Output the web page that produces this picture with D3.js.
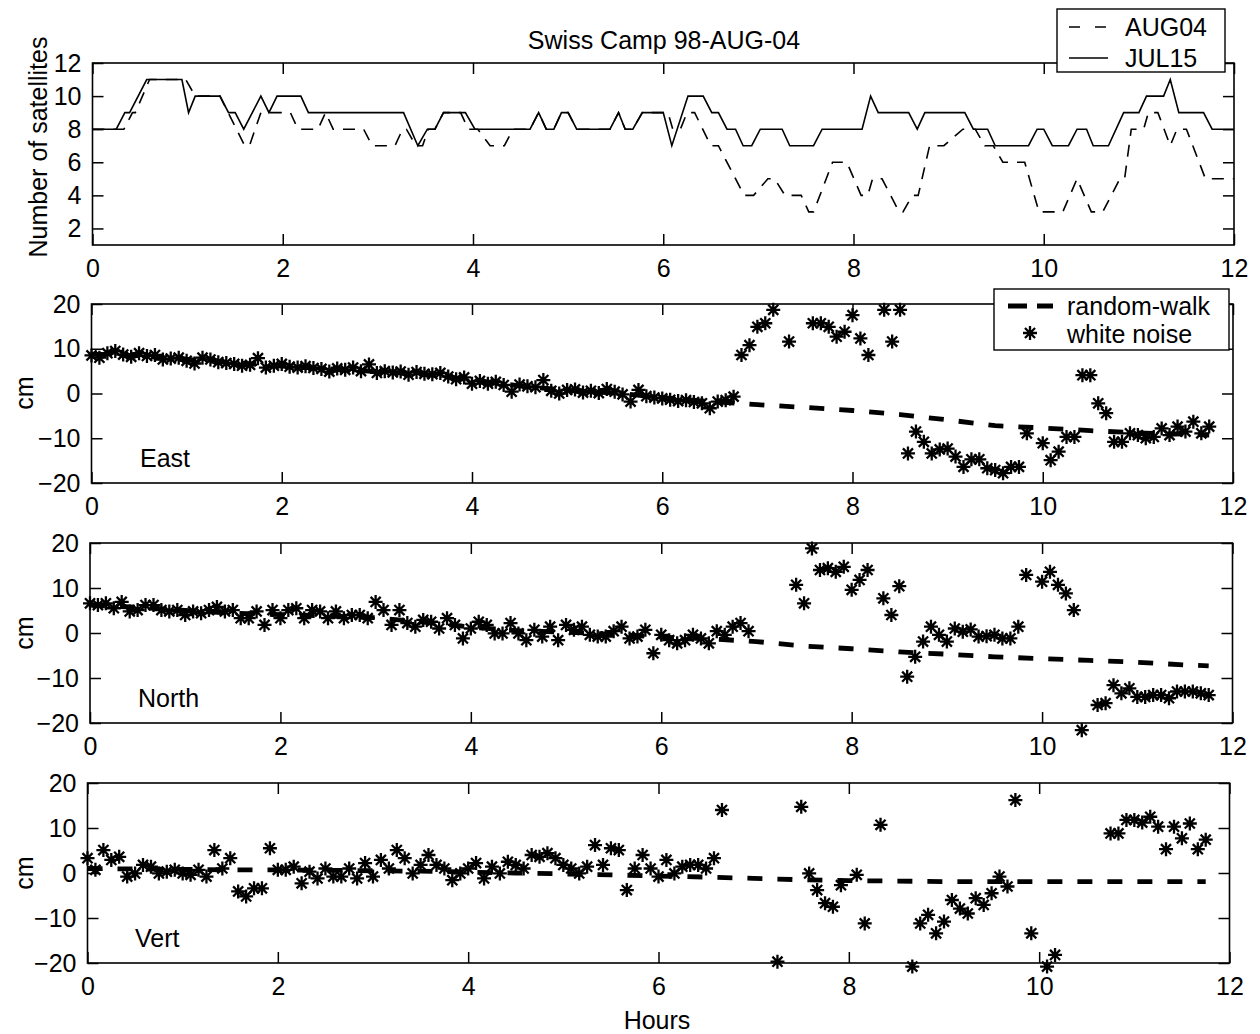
<!DOCTYPE html>
<html><head><meta charset="utf-8">
<script src="https://cdn.jsdelivr.net/npm/d3@7"></script>
<style>
body{margin:0;background:#fff;}
text{font-family:"Liberation Sans", Arial, Helvetica, sans-serif;fill:#000;}
</style></head><body>
<svg id="chart" width="1260" height="1034"></svg>
<script>
// ---------- DATA ----------
const titleText = "Swiss Camp 98-AUG-04";
const seriesNames = ["AUG04", "JUL15"];
const cmLegendNames = ["random-walk", "white noise"];
const panelNames = ["East", "North", "Vert"];
const xTicks = [0, 2, 4, 6, 8, 10, 12];
const satTicks = [2, 4, 6, 8, 10, 12];
const cmTicks = [-20, -10, 0, 10, 20];

// Number of satellites (breakpoints)
const jul15Hours = [0,0.25,0.34,0.39,0.57,0.94,1.01,1.08,1.34,1.43,1.5,1.59,1.77,1.855,1.94,2.19,2.27,3.27,3.42,3.52,3.6,3.69,3.92,4.02,4.6,4.69,4.77,4.85,4.93,5.0,5.09,5.44,5.53,5.6,5.68,5.78,6.0,6.09,6.26,6.42,6.51,6.58,6.67,6.76,6.84,6.93,7.02,7.25,7.33,7.58,7.67,8.09,8.18,8.26,8.58,8.67,8.75,9.17,9.26,9.41,9.49,9.84,9.93,10.0,10.09,10.26,10.35,10.45,10.52,10.68,10.84,11.0,11.08,11.26,11.33,11.42,11.68,11.77,12.0];
const jul15Sats  = [8,8,9,9,11,11,9,10,10,9,9,8,10,9,10,10,9,9,7,8,8,9,9,8,8,9,8,8,9,9,8,8,9,8,8,9,9,7,10,10,9,9,8,8,7,7,8,8,7,7,8,8,10,9,9,8,9,9,8,8,7,7,8,8,7,7,8,8,7,7,9,9,10,10,11,9,9,8,8];
const aug04Hours = [0,0.33,0.42,0.45,0.6,0.98,1.08,1.34,1.6,1.65,1.77,2.08,2.16,2.37,2.45,2.53,2.85,2.94,3.18,3.26,3.3,3.4,3.47,3.53,3.6,3.69,3.87,3.95,4.05,4.18,4.33,4.42,4.6,4.69,4.77,4.85,4.93,5.0,5.09,5.44,5.53,5.6,5.68,5.78,6.05,6.1,6.18,6.25,6.33,6.5,6.58,6.85,6.95,7.1,7.17,7.28,7.45,7.53,7.58,7.78,7.93,8.08,8.15,8.2,8.3,8.48,8.52,8.62,8.68,8.8,8.95,9.15,9.28,9.38,9.47,9.57,9.8,9.95,10.2,10.35,10.5,10.62,10.8,10.85,10.92,11.05,11.1,11.2,11.33,11.4,11.5,11.7,12];
const aug04Sats  = [8,8,9,9,11,11,10,10,7,7,9,9,8,8,9,8,8,7,7,8,8,7,7,8,8,9,9,8,8,7,7,8,8,9,8,8,9,9,8,8,9,8,8,9,9,8,8,9,9,7,7,4,4,5,5,4,4,3,3,6,6,4,4,5,5,3,3,4,4,7,7,8,8,7,7,6,6,3,3,5,3,3,5,5,8,8,9,9,7,8,8,5,5];

// Epoch times (hours) of the position solutions
const epochHours = [
 0,0.083,0.167,0.25,0.333,0.417,0.5,0.583,0.667,0.75,0.833,0.917,
 1,1.083,1.167,1.25,1.333,1.417,1.5,1.583,1.667,1.75,1.833,1.917,
 2,2.083,2.167,2.25,2.333,2.417,2.5,2.583,2.667,2.75,2.833,2.917,
 3,3.083,3.167,3.25,3.333,3.417,3.5,3.583,3.667,3.75,3.833,3.917,
 4,4.083,4.167,4.25,4.333,4.417,4.5,4.583,4.667,4.75,4.833,4.917,
 5,5.083,5.167,5.25,5.333,5.417,5.5,5.583,5.667,5.75,5.833,5.917,
 6,6.083,6.167,6.25,6.333,6.417,6.5,6.583,6.667,6.75,6.833,6.917,
 7,7.083,7.167,7.25,7.333,7.417,7.5,7.583,7.667,7.75,7.833,7.917,
 8,8.083,8.167,8.25,8.333,8.417,8.5,8.583,8.667,8.75,8.833,8.917,
 9,9.083,9.167,9.25,9.333,9.417,9.5,9.583,9.667,9.75,9.833,9.917,
 10,10.083,10.167,10.25,10.333,10.417,10.5,10.583,10.667,10.75,10.833,10.917,
 11,11.083,11.167,11.25,11.333,11.417,11.5,11.583,11.667,11.75];

// White-noise solutions (cm), null = no solution
const eastCm = [
 8.5,8.0,9.0,9.5,8.7,8.2,9.0,8.4,8.6,7.6,7.8,8.0,
 7.3,6.7,8.0,7.6,7.0,6.8,6.6,6.2,6.4,7.9,5.8,6.2,
 6.6,6.0,5.8,6.1,5.7,5.5,4.9,5.6,5.3,5.8,5.0,6.5,
 4.6,5.0,4.7,4.9,4.2,4.8,4.4,4.3,4.6,3.8,3.2,3.6,
 2.2,2.8,2.2,2.6,1.9,0.4,2.0,1.6,1.4,3.0,0.6,0.0,
 0.8,0.9,0.2,0.6,0.1,1.0,0.4,-0.2,-1.8,0.8,-0.6,-0.9,
 -1.1,-1.4,-1.7,-1.5,-1.9,-2.2,-3.3,-1.8,-1.5,-0.7,8.6,10.8,
 14.9,15.7,18.7,null,11.6,null,null,15.7,15.7,14.9,12.7,13.8,
 17.5,12.3,8.6,null,18.7,11.6,18.7,-13.4,-8.5,-10.8,-13.4,-12.5,
 -12.3,-14.1,-16.4,-14.7,-14.7,-16.7,-17.1,-17.8,-16.4,-16.4,-8.9,null,
 -11.1,-14.9,-13.0,-9.7,-9.7,4.1,4.1,-2.2,-4.4,-10.8,-10.8,-8.9,
 -9.3,-10.0,-9.7,-7.8,-9.3,-7.4,-8.5,-6.3,-8.9,-7.4];
const northCm = [
 6.6,6.2,6.6,5.5,6.9,4.8,5.1,6.2,6.2,5.1,4.8,5.1,
 4.0,4.8,4.4,5.1,5.8,4.8,5.1,3.3,3.3,4.8,1.8,5.1,
 3.3,5.1,5.5,3.3,5.1,4.8,3.3,4.8,3.3,4.0,4.0,3.3,
 6.9,5.1,1.8,5.1,2.2,1.4,2.9,2.5,1.0,3.3,1.8,-1.2,
 1.0,2.5,1.8,-0.1,-0.1,2.2,-0.1,-1.6,0.7,-0.8,1.4,-1.6,
 1.8,0.7,1.4,-0.4,-0.8,-0.8,0.4,1.4,-1.2,-0.8,0.7,-4.5,
 -0.4,-1.6,-2.3,-1.6,-0.4,-1.2,-2.3,0.4,-0.4,1.4,2.2,0.4,
 null,null,null,null,null,10.7,6.6,18.8,14.0,14.4,13.6,14.7,
 9.6,11.8,14.0,null,7.7,4.0,10.4,-9.7,-5.3,-1.9,1.4,-0.4,
 -1.9,1.0,0.3,0.8,-0.8,-0.7,-0.4,-1.2,-1.2,1.4,12.9,null,
 11.4,13.6,10.7,8.8,5.1,-21.6,null,-16.0,-15.6,-11.6,-13.4,-12.3,
 -14.2,-14.2,-13.8,-13.8,-14.5,-13.0,-13.0,-13.0,-13.4,-13.8];
const vertCm = [
 3.3,0.7,5.1,2.9,3.6,-0.8,-0.1,1.8,1.4,-0.1,0.3,0.7,
 -0.1,-0.4,0.7,-0.8,5.1,1.0,3.3,-4.1,-5.2,-3.4,-3.4,5.5,
 0.7,0.7,1.4,-2.3,0.3,-1.2,1.0,-0.8,-0.8,1.0,-1.2,2.2,
 -0.8,2.9,1.0,5.1,3.3,-0.1,1.8,4.0,1.8,1.0,-1.6,-0.1,
 1.0,2.2,-1.2,1.4,-0.1,2.5,1.8,1.0,4.0,3.6,4.4,3.3,
 1.8,1.0,-0.1,1.4,6.2,1.8,5.5,5.1,-3.8,1.0,4.0,1.0,
 -0.8,2.9,-0.1,1.4,1.8,1.8,1.0,3.3,14.0,null,null,null,
 null,null,null,-19.7,null,null,14.7,-0.1,-3.8,-6.7,-7.5,-2.7,
 null,-0.4,-11.2,null,10.7,null,null,null,-20.8,-11.2,-9.3,-13.4,
 -10.8,-6.0,-7.9,-9.0,-5.6,-7.1,-4.5,-0.8,-3.0,16.2,null,-13.4,
 null,-20.8,-18.2,null,null,null,null,null,null,8.8,8.8,11.8,
 11.8,11.2,12.5,10.3,5.3,10.3,7.7,11.0,5.3,7.4];

// Random-walk solutions (cm)
const rwHours = [0,0.5,1,1.5,2,2.5,3,3.5,4,4.5,5,5.5,6,6.5,7,7.5,8,8.5,9,9.5,10,10.5,11,11.5,11.75];
const rwEast  = [8.8,8.4,7.6,6.9,6.1,5.5,4.9,4.3,3.0,1.7,0.7,0.1,-0.9,-1.8,-2.5,-3.1,-3.8,-4.7,-5.9,-7.2,-7.7,-8.3,-8.8,-9.1,-9.3];
const rwNorth = [6.2,5.7,5.0,4.4,4.1,3.8,3.4,2.4,1.3,0.5,0.2,-0.3,-0.9,-1.3,-1.9,-2.9,-3.5,-4.2,-4.7,-5.3,-5.7,-6.1,-6.5,-7.1,-7.3];
const rwVert  = [1.0,0.9,0.8,0.7,0.7,0.6,0.5,0.4,0.2,0.0,-0.2,-0.4,-0.7,-0.9,-1.2,-1.5,-1.7,-1.8,-1.9,-1.9,-1.9,-1.9,-1.9,-1.9,-1.9];

// ---------- DRAWING ----------
const svg = d3.select("#chart");
svg.append("rect").attr("width", 1260).attr("height", 1034).attr("fill", "#fff");
const FS = 25;

function frame(g, x, y, xt, yt, b) {
  const ax = (axis, tx, ty, labels, pad) => {
    const a = g.append("g").attr("transform", `translate(${tx},${ty})`)
      .call(axis.tickSize(-11).tickPadding(pad).tickFormat(labels ? d3.format("d") : ""));
    a.select(".domain").remove();
    a.selectAll("line").attr("stroke", "#000").attr("stroke-width", 1.5);
    a.selectAll("text").style("font-size", FS + "px").style("font-family", '"Liberation Sans", Arial, sans-serif').attr("fill", "#000");
    return a;
  };
  ax(d3.axisBottom(x).tickValues(xt), 0, b.bottom, true, 14);
  ax(d3.axisTop(x).tickValues(xt), 0, b.top, false, 0);
  ax(d3.axisLeft(y).tickValues(yt), b.left, 0, true, 11);
  ax(d3.axisRight(y).tickValues(yt), b.right, 0, false, 0);
  g.append("rect").attr("x", b.left).attr("y", b.top)
    .attr("width", b.right - b.left).attr("height", b.bottom - b.top)
    .attr("fill", "none").attr("stroke", "#000").attr("stroke-width", 1.6);
}

// star marker path ("*")
function starPath(r) {
  const d = r * 0.72;
  return `M${-r},0L${r},0M0,${-r}L0,${r}M${-d},${-d}L${d},${d}M${-d},${d}L${d},${-d}`;
}
const STAR = starPath(7);

// ---- panel 1: satellites ----
const sb = {left: 92.5, right: 1234, top: 63, bottom: 245};
const sx = d3.scaleLinear().domain([0, 12]).range([sb.left, sb.right]);
const sy = d3.scaleLinear().domain([1, 12]).range([sb.bottom, sb.top]);
const g1 = svg.append("g");
const satLine = d3.line().x(d => sx(d[0])).y(d => sy(d[1]));
g1.append("path").datum(aug04Hours.map((h, i) => [h, aug04Sats[i]]))
  .attr("d", satLine).attr("fill", "none").attr("stroke", "#000")
  .attr("stroke-width", 1.6).attr("stroke-dasharray", "12,9");
g1.append("path").datum(jul15Hours.map((h, i) => [h, jul15Sats[i]]))
  .attr("d", satLine).attr("fill", "none").attr("stroke", "#000").attr("stroke-width", 1.6);
frame(g1, sx, sy, xTicks, satTicks, sb);

svg.append("text").attr("x", 664).attr("y", 49).attr("text-anchor", "middle")
  .style("font-size", FS + "px").text(titleText);
svg.append("text").attr("transform", "translate(47,147) rotate(-90)")
  .attr("text-anchor", "middle").style("font-size", FS + "px").text("Number of satellites");

// legend 1
const l1 = svg.append("g");
l1.append("rect").attr("x", 1057).attr("y", 9).attr("width", 168).attr("height", 63)
  .attr("fill", "#fff").attr("stroke", "#000").attr("stroke-width", 1.4);
l1.append("line").attr("x1", 1069).attr("x2", 1108).attr("y1", 27).attr("y2", 27)
  .attr("stroke", "#000").attr("stroke-width", 1.6).attr("stroke-dasharray", "11,15");
l1.append("line").attr("x1", 1069).attr("x2", 1108).attr("y1", 58).attr("y2", 58)
  .attr("stroke", "#000").attr("stroke-width", 1.6);
l1.append("text").attr("x", 1125).attr("y", 36).style("font-size", FS + "px").text(seriesNames[0]);
l1.append("text").attr("x", 1125).attr("y", 67).style("font-size", FS + "px").text(seriesNames[1]);

// ---- cm panels ----
const cmSeries = [eastCm, northCm, vertCm];
const rwSeries = [rwEast, rwNorth, rwVert];
const boxes = [
  {left: 91.5, right: 1233, top: 304, bottom: 483, lx: 140, ly: 467, cy: 393},
  {left: 90, right: 1232.5, top: 543, bottom: 723, lx: 138, ly: 707, cy: 633},
  {left: 87.5, right: 1229.5, top: 783, bottom: 963, lx: 135, ly: 947, cy: 873}
];
panelNames.forEach((name, k) => {
  const b = boxes[k];
  const x = d3.scaleLinear().domain([0, 12]).range([b.left, b.right]);
  const y = d3.scaleLinear().domain([-20, 20]).range([b.bottom, b.top]);
  const g = svg.append("g");
  const rw = rwHours.map((h, i) => [h, rwSeries[k][i]]);
  g.append("path").datum(rw)
    .attr("d", d3.line().x(d => x(d[0])).y(d => y(d[1])))
    .attr("fill", "none").attr("stroke", "#000").attr("stroke-width", 4.8)
    .attr("stroke-dasharray", "15,15");
  const pts = epochHours.map((h, i) => [h, cmSeries[k][i]]).filter(d => d[1] !== null);
  g.selectAll("path.star").data(pts).enter().append("path").attr("class", "star")
    .attr("d", STAR).attr("transform", d => `translate(${x(d[0])},${y(d[1])})`)
    .attr("fill", "none").attr("stroke", "#000").attr("stroke-width", 2.3);
  frame(g, x, y, xTicks, cmTicks, b);
  svg.append("text").attr("x", b.lx).attr("y", b.ly).style("font-size", FS + "px").text(name);
  svg.append("text").attr("transform", `translate(33,${b.cy}) rotate(-90)`)
    .attr("text-anchor", "middle").style("font-size", FS + "px").text("cm");
});

// legend 2
const l2 = svg.append("g");
l2.append("rect").attr("x", 994).attr("y", 289).attr("width", 235).attr("height", 61)
  .attr("fill", "#fff").attr("stroke", "#000").attr("stroke-width", 1.4);
l2.append("line").attr("x1", 1008).attr("x2", 1053).attr("y1", 306).attr("y2", 306)
  .attr("stroke", "#000").attr("stroke-width", 4.8).attr("stroke-dasharray", "19,10");
l2.append("path").attr("d", STAR).attr("transform", "translate(1030,333)")
  .attr("fill", "none").attr("stroke", "#000").attr("stroke-width", 2.3);
l2.append("text").attr("x", 1067).attr("y", 315).style("font-size", FS + "px").text(cmLegendNames[0]);
l2.append("text").attr("x", 1067).attr("y", 343).style("font-size", FS + "px").text(cmLegendNames[1]);

svg.append("text").attr("x", 657).attr("y", 1029).attr("text-anchor", "middle")
  .style("font-size", FS + "px").text("Hours");
</script>
</body></html>
